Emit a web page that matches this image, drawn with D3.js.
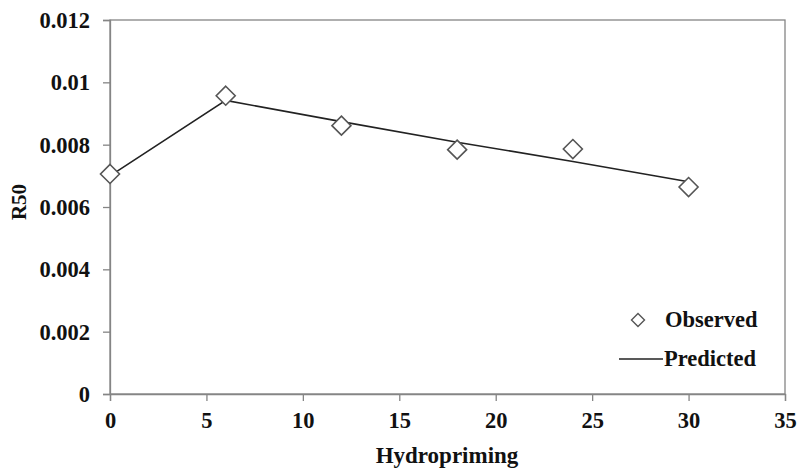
<!DOCTYPE html>
<html><head><meta charset="utf-8">
<script src="https://cdn.jsdelivr.net/npm/d3@7"></script>
<style>body{margin:0;background:#fff}svg{display:block}</style>
</head><body><svg id="c" width="798" height="468"></svg>
<script>
const xTicks = [0,5,10,15,20,25,30,35];
const yTicks = [0,0.002,0.004,0.006,0.008,0.01,0.012];
const yTickLabels = ["0","0.002","0.004","0.006","0.008","0.01","0.012"];
const obsX = [0,6,12,18,24,30];
const obsY = [0.00706,0.00957,0.00861,0.00784,0.00786,0.00664];
const predX = [0,6,12,18,24,30];
const predY = [0.00700,0.00942,0.00874,0.00808,0.00746,0.00681];

const svg = d3.select("#c");
const L=110,R=785,T=20,B=394;
const x = d3.scaleLinear().domain([0,35]).range([L,R]);
const y = d3.scaleLinear().domain([0,0.012]).range([B,T]);
const font = "'Liberation Serif','Times New Roman',serif";
const axisCol = "#858585";

// frame
svg.append("rect").attr("x",L).attr("y",T).attr("width",R-L).attr("height",B-T)
  .attr("fill","none").attr("stroke",axisCol).attr("stroke-width",1.3);

const xa = svg.append("g").attr("transform",`translate(0,${B})`)
  .call(d3.axisBottom(x).tickValues(xTicks).tickSize(7).tickPadding(10).tickFormat(d3.format("d")));
const ya = svg.append("g").attr("transform",`translate(${L},0)`)
  .call(d3.axisLeft(y).tickValues(yTicks).tickSize(7).tickPadding(13).tickFormat((d,i)=>yTickLabels[i]));
[xa,ya].forEach(g=>{
  g.select(".domain").attr("stroke",axisCol).attr("stroke-width",1.3);
  g.selectAll(".tick line").attr("stroke",axisCol).attr("stroke-width",1.3);
  g.selectAll("text").attr("font-family",font).attr("font-weight","bold")
   .attr("font-size",22.5).attr("fill","#111");
});
ya.selectAll("text").attr("dy","0.33em");
xa.selectAll("text").attr("dy","0.75em");

// predicted line
svg.append("path").datum(predX.map((d,i)=>[d,predY[i]]))
  .attr("d",d3.line().x(d=>x(d[0])).y(d=>y(d[1])))
  .attr("fill","none").attr("stroke","#222").attr("stroke-width",1.6);

// observed diamonds
const dsym = (r)=>`M0,${-r}L${r},0L0,${r}L${-r},0Z`;
svg.selectAll("path.obs").data(obsX.map((d,i)=>[d,obsY[i]])).enter().append("path")
  .attr("class","obs").attr("d",dsym(9.5))
  .attr("transform",d=>`translate(${x(d[0])},${y(d[1])})`)
  .attr("fill","#fff").attr("stroke","#555").attr("stroke-width",1.6);

// legend
svg.append("path").attr("d",dsym(6.5)).attr("transform","translate(638,320)")
  .attr("fill","#fff").attr("stroke","#555").attr("stroke-width",1.4);
svg.append("text").attr("x",665).attr("y",327).text("Observed")
  .attr("font-family",font).attr("font-weight","bold").attr("font-size",22.5).attr("fill","#111");
svg.append("line").attr("x1",619).attr("x2",663).attr("y1",359).attr("y2",359)
  .attr("stroke","#222").attr("stroke-width",1.4);
svg.append("text").attr("x",664).attr("y",366).text("Predicted")
  .attr("font-family",font).attr("font-weight","bold").attr("font-size",22.5).attr("fill","#111");

// axis titles
svg.append("text").attr("x",447).attr("y",463).attr("text-anchor","middle").text("Hydropriming")
  .attr("font-family",font).attr("font-weight","bold").attr("font-size",23).attr("fill","#111");
svg.append("text").attr("transform","translate(26,202) rotate(-90)").attr("text-anchor","middle").text("R50")
  .attr("font-family",font).attr("font-weight","bold").attr("font-size",21).attr("fill","#111");
</script></body></html>
